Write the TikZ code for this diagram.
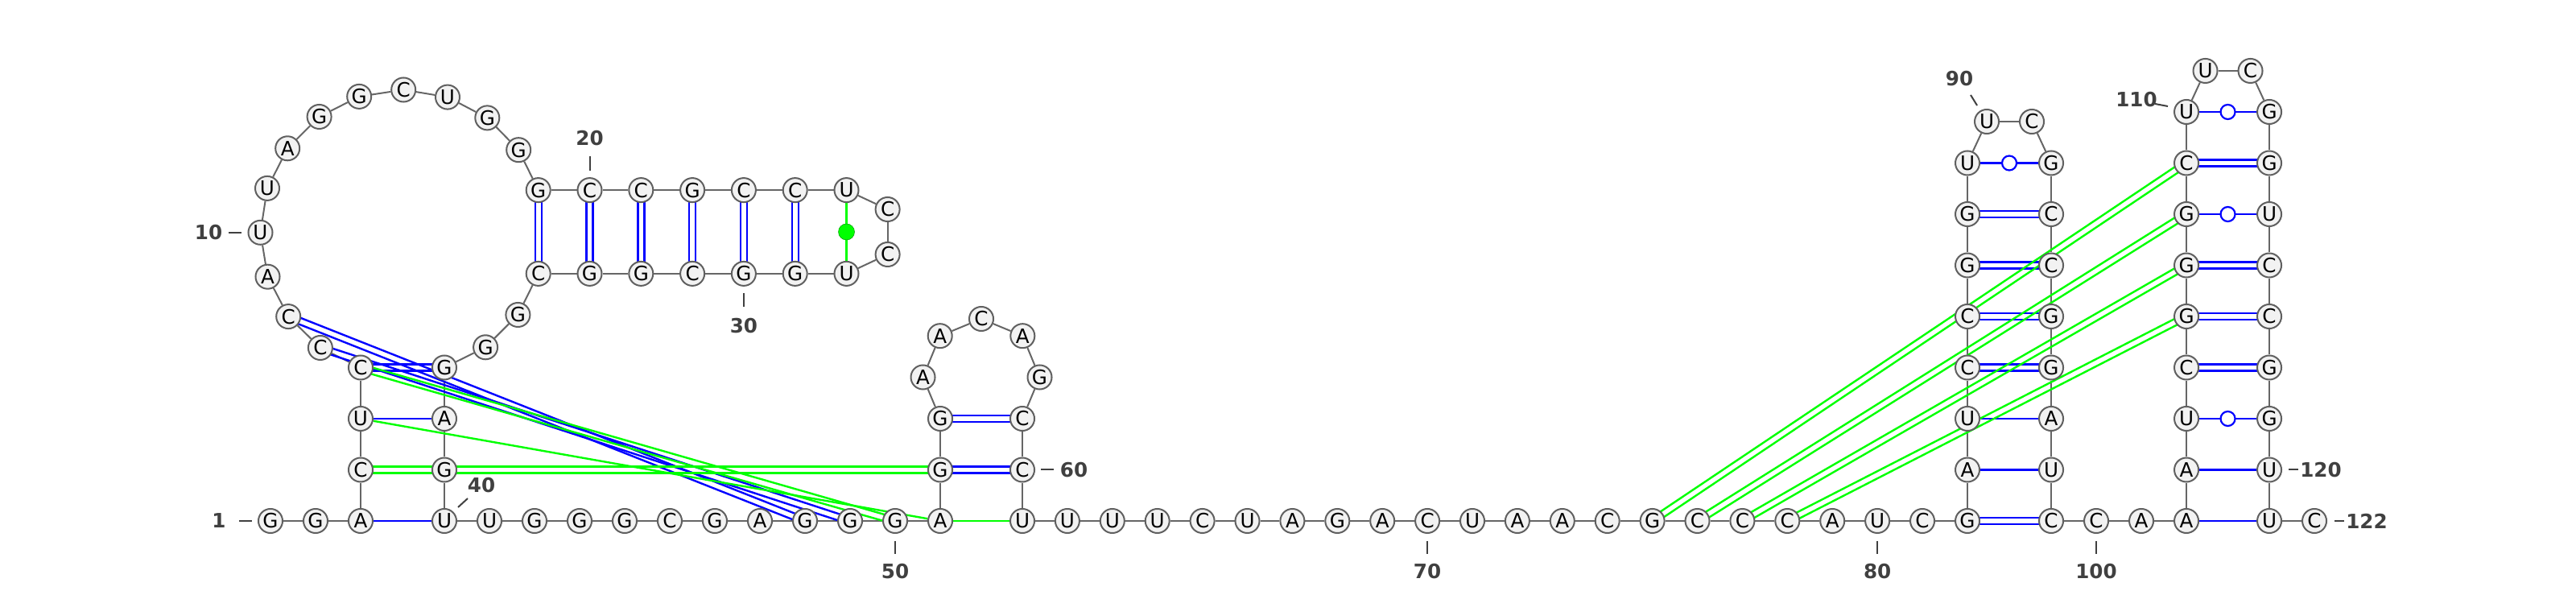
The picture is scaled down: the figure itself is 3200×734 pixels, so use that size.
\documentclass[tikz,border=0pt]{standalone}
\usepackage{fontspec}
\setmainfont{DejaVu Sans}
\usetikzlibrary{calc,backgrounds}
\definecolor{bbgray}{RGB}{102,102,102}
\definecolor{ntfill}{RGB}{242,242,242}
\definecolor{ntline}{RGB}{96,96,96}
\definecolor{numgray}{RGB}{64,64,64}
\definecolor{bpblue}{RGB}{0,0,255}
\definecolor{bpgreen}{RGB}{0,255,0}
\newcommand{\dbl}[3]{%
  \draw[#3] ($(#1.center)!0.04cm!90:(#2.center)$) -- ($(#2.center)!0.04cm!-90:(#1.center)$);
  \draw[#3] ($(#1.center)!0.04cm!-90:(#2.center)$) -- ($(#2.center)!0.04cm!90:(#1.center)$);}

\begin{document}
\begin{tikzpicture}[x=0.01cm,y=-0.01cm,
    nt/.style={circle,draw=ntline,fill=ntfill,line width=0.02cm,minimum size=0.30cm,inner sep=0pt,font=\fontsize{7}{8}\selectfont},
    num/.style={inner sep=0pt,text=numgray,font=\fontsize{7}{8}\selectfont\bfseries},
    tick/.style={draw=numgray,line width=0.02cm},
    bb/.style={draw=bbgray,line width=0.02cm},
    bpb/.style={draw=bpblue,line width=0.024cm},
    bpg/.style={draw=bpgreen,line width=0.024cm},
    wb/.style={circle,draw=bpblue,fill=white,line width=0.022cm,minimum size=0.18cm,inner sep=0pt},
    gd/.style={circle,draw=green!60!black,fill=bpgreen,line width=0.005cm,minimum size=0.2cm,inner sep=0pt}]
\useasboundingbox (0,0) rectangle (3200,734);
                \node[nt](1)at(336, 647){G};
                \node[nt](2)at(392, 647){G};
                \node[nt](3)at(448, 647){A};
                \node[nt](4)at(448, 583.5){C};
                \node[nt](5)at(448, 520){U};
                \node[nt](6)at(448, 456.5){C};
                \node[nt](7)at(397.9, 432){C};
                \node[nt](8)at(358.2, 393.1){C};
                \node[nt](9)at(332.5, 343.7){A};
                \node[nt](10)at(323.5, 288.8){U};
                \node[nt](11)at(332, 233.9){U};
                \node[nt](12)at(357.2, 184.3){A};
                \node[nt](13)at(396.6, 145){G};
                \node[nt](14)at(446.2, 119.9){G};
                \node[nt](15)at(501.2, 111.5){C};
                \node[nt](16)at(556, 120.6){U};
                \node[nt](17)at(605.3, 146.4){G};
                \node[nt](18)at(644.2, 186.2){G};
                \node[nt](19)at(668.7, 236.1){G};
                \node[nt](20)at(732.5, 236.1){C};
                \node[nt](21)at(796.3, 236.1){C};
                \node[nt](22)at(860.1, 236.1){G};
                \node[nt](23)at(923.9, 236.1){C};
                \node[nt](24)at(987.7, 236.1){C};
                \node[nt](25)at(1051.5, 236.1){U};
                \node[nt](26)at(1102.6, 260){C};
                \node[nt](27)at(1102.6, 316){C};
                \node[nt](28)at(1051.5, 339.9){U};
                \node[nt](29)at(987.7, 339.9){G};
                \node[nt](30)at(923.9, 339.9){G};
                \node[nt](31)at(860.1, 339.9){C};
                \node[nt](32)at(796.3, 339.9){G};
                \node[nt](33)at(732.5, 339.9){G};
                \node[nt](34)at(668.7, 339.9){C};
                \node[nt](35)at(643.4, 391){G};
                \node[nt](36)at(603.1, 431.3){G};
                \node[nt](37)at(552, 456.5){G};
                \node[nt](38)at(552, 520){A};
                \node[nt](39)at(552, 583.5){G};
                \node[nt](40)at(552, 647){U};
                \node[nt](41)at(608, 647){U};
                \node[nt](42)at(664, 647){G};
                \node[nt](43)at(720, 647){G};
                \node[nt](44)at(776, 647){G};
                \node[nt](45)at(832, 647){C};
                \node[nt](46)at(888, 647){G};
                \node[nt](47)at(944, 647){A};
                \node[nt](48)at(1000, 647){G};
                \node[nt](49)at(1056, 647){G};
                \node[nt](50)at(1112, 647){G};
                \node[nt](51)at(1168, 647){A};
                \node[nt](52)at(1168, 583.5){G};
                \node[nt](53)at(1168, 520){G};
                \node[nt](54)at(1146.5, 468.5){A};
                \node[nt](55)at(1167.7, 417.2){A};
                \node[nt](56)at(1219, 396){C};
                \node[nt](57)at(1270.3, 417.2){A};
                \node[nt](58)at(1291.5, 468.5){G};
                \node[nt](59)at(1270, 520){C};
                \node[nt](60)at(1270, 583.5){C};
                \node[nt](61)at(1270, 647){U};
                \node[nt](62)at(1325.9, 647){U};
                \node[nt](63)at(1381.8, 647){U};
                \node[nt](64)at(1437.7, 647){U};
                \node[nt](65)at(1493.6, 647){C};
                \node[nt](66)at(1549.5, 647){U};
                \node[nt](67)at(1605.4, 647){A};
                \node[nt](68)at(1661.3, 647){G};
                \node[nt](69)at(1717.2, 647){A};
                \node[nt](70)at(1773.1, 647){C};
                \node[nt](71)at(1829, 647){U};
                \node[nt](72)at(1884.9, 647){A};
                \node[nt](73)at(1940.8, 647){A};
                \node[nt](74)at(1996.7, 647){C};
                \node[nt](75)at(2052.6, 647){G};
                \node[nt](76)at(2108.5, 647){C};
                \node[nt](77)at(2164.4, 647){C};
                \node[nt](78)at(2220.3, 647){C};
                \node[nt](79)at(2276.2, 647){A};
                \node[nt](80)at(2332.1, 647){U};
                \node[nt](81)at(2388, 647){C};
                \node[nt](82)at(2444, 647){G};
                \node[nt](83)at(2444, 583.5){A};
                \node[nt](84)at(2444, 520){U};
                \node[nt](85)at(2444, 456.5){C};
                \node[nt](86)at(2444, 393){C};
                \node[nt](87)at(2444, 329.5){G};
                \node[nt](88)at(2444, 266){G};
                \node[nt](89)at(2444, 202.5){U};
                \node[nt](90)at(2468, 151){U};
                \node[nt](91)at(2524, 151){C};
                \node[nt](92)at(2548, 202.5){G};
                \node[nt](93)at(2548, 266){C};
                \node[nt](94)at(2548, 329.5){C};
                \node[nt](95)at(2548, 393){G};
                \node[nt](96)at(2548, 456.5){G};
                \node[nt](97)at(2548, 520){A};
                \node[nt](98)at(2548, 583.5){U};
                \node[nt](99)at(2548, 647){C};
                \node[nt](100)at(2604, 647){C};
                \node[nt](101)at(2660, 647){A};
                \node[nt](102)at(2716, 647){A};
                \node[nt](103)at(2716, 583.5){A};
                \node[nt](104)at(2716, 520){U};
                \node[nt](105)at(2716, 456.5){C};
                \node[nt](106)at(2716, 393){G};
                \node[nt](107)at(2716, 329.5){G};
                \node[nt](108)at(2716, 266){G};
                \node[nt](109)at(2716, 202.5){C};
                \node[nt](110)at(2716, 139){U};
                \node[nt](111)at(2739.5, 88){U};
                \node[nt](112)at(2795.5, 88){C};
                \node[nt](113)at(2819, 139){G};
                \node[nt](114)at(2819, 202.5){G};
                \node[nt](115)at(2819, 266){U};
                \node[nt](116)at(2819, 329.5){C};
                \node[nt](117)at(2819, 393){C};
                \node[nt](118)at(2819, 456.5){G};
                \node[nt](119)at(2819, 520){G};
                \node[nt](120)at(2819, 583.5){U};
                \node[nt](121)at(2819, 647){U};
                \node[nt](122)at(2875, 647){C};

                \begin{scope}[on background layer]
                \foreach \i [evaluate=\i as \j using int(\i+1)] in {1,...,121}
                    \draw[bb] (\i) -- (\j);
                \foreach \a/\b in {3/40,5/38,83/98,84/97,102/121,103/120,89/92,104/119,108/115,110/113}
                    \draw[bpb] (\a) -- (\b);
                \foreach \a/\b in {6/37,19/34,20/33,21/32,22/31,23/30,24/29,52/60,53/59,7/49,8/48,
                    82/99,85/96,86/95,87/94,88/93,105/118,106/117,107/116,109/114}
                    {\dbl{\a}{\b}{bpb}}
                \foreach \a/\b in {25/28,5/51,51/61}
                    \draw[bpg] (\a) -- (\b);
                \foreach \a/\b in {4/52,6/50,75/109,76/108,77/107,78/106}
                    {\dbl{\a}{\b}{bpg}}
                \end{scope}

                \node[gd](d25)at($(25)!0.5!(28)$){};
                \foreach \a/\b in {89/92,104/119,108/115,110/113}
                    \node[wb](w\a)at($(\a)!0.5!(\b)$){};

                \node[num](l1)at(272, 647){1};
                \draw[tick] (297, 647) -- (313, 647);
                \node[num](l10)at(259, 289){10};
                \draw[tick] (284, 288.8) -- (300, 288.8);
                \node[num](l20)at(732.5, 172){20};
                \draw[tick] (732.5, 194) -- (732.5, 212);
                \node[num](l30)at(923.9, 405){30};
                \draw[tick] (923.9, 364) -- (923.9, 381);
                \node[num](l40)at(598, 603){40};
                \draw[tick] (569, 630) -- (581, 619);
                \node[num](l50)at(1112, 710){50};
                \draw[tick] (1112, 672) -- (1112, 688);
                \node[num](l60)at(1334, 584){60};
                \draw[tick] (1293, 583.5) -- (1309, 583.5);
                \node[num](l70)at(1773.1, 710){70};
                \draw[tick] (1773.1, 672) -- (1773.1, 688);
                \node[num](l80)at(2332.1, 710){80};
                \draw[tick] (2332.1, 672) -- (2332.1, 688);
                \node[num](l90)at(2434, 98){90};
                \draw[tick] (2448, 118) -- (2456, 131);
                \node[num](l100)at(2604, 710){100};
                \draw[tick] (2604, 672) -- (2604, 688);
                \node[num](l110)at(2654, 124){110};
                \draw[tick] (2677, 129) -- (2693, 132);
                \node[num](l120)at(2883, 584){120};
                \draw[tick] (2843, 583.5) -- (2855, 583.5);
                \node[num](l122)at(2940, 647){122};
                \draw[tick] (2900, 647) -- (2912, 647);
\end{tikzpicture}
\end{document}
